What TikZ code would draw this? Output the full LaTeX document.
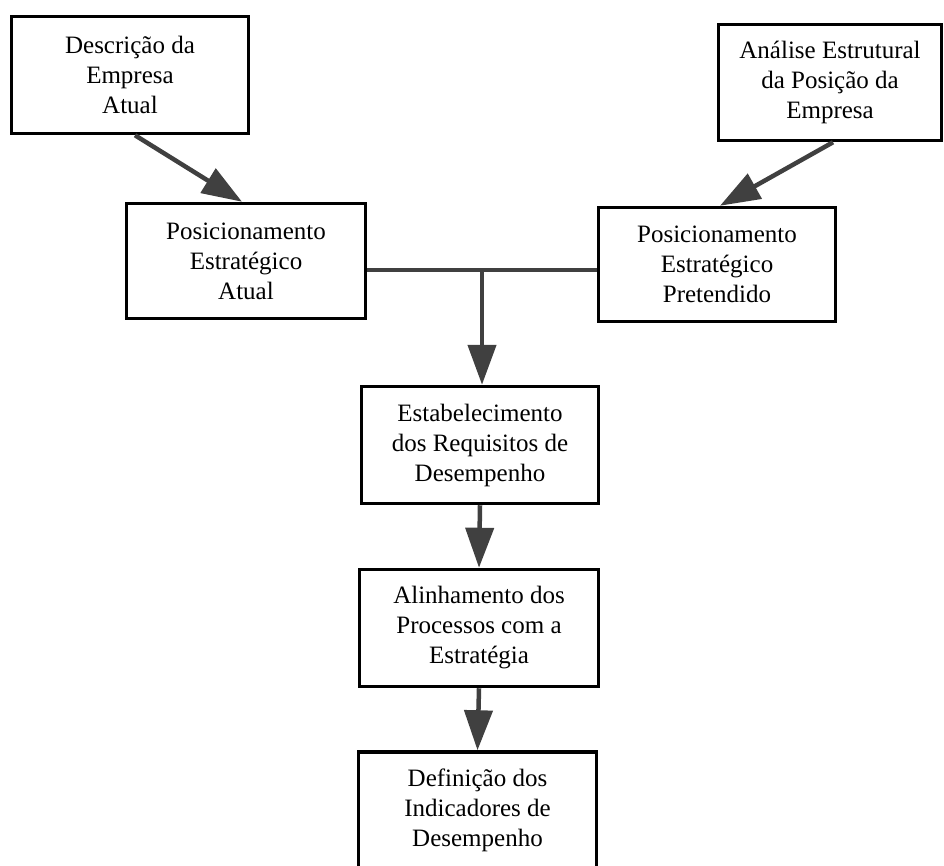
\documentclass[tikz,border=0pt]{standalone}
\usepackage{fontspec}
\setmainfont{Liberation Serif}
\usetikzlibrary{arrows.meta}
\begin{document}
\begin{tikzpicture}[x=1pt,y=-1pt,
  box/.style={draw=black, line width=3.5pt, fill=white, inner sep=0pt,
    align=center, font=\fontsize{25}{30}\selectfont},
  link/.style={draw=black!75, line width=4.5pt},
  flow/.style={link, -{Triangle[length=40pt,width=28pt]}}]
  \useasboundingbox (0,0) rectangle (944,865);
  \clip (0,0) rectangle (944,865);

  % process boxes
  \node[box, minimum width=237pt, minimum height=117pt] (desc) at (130,75)
    {Descrição da\\Empresa\\Atual};
  \node[box, minimum width=223pt, minimum height=116pt] (anal) at (830,82.5)
    {Análise Estrutural\\da Posição da\\Empresa};
  \node[box, minimum width=239pt, minimum height=115pt] (patu) at (246,261)
    {Posicionamento\\Estratégico\\Atual};
  \node[box, minimum width=237pt, minimum height=114pt] (ppre) at (717,264.5)
    {Posicionamento\\Estratégico\\Pretendido};
  \node[box, minimum width=237pt, minimum height=117pt] (requ) at (480,445)
    {Estabelecimento\\dos Requisitos de\\Desempenho};
  \node[box, minimum width=239pt, minimum height=117pt] (alin) at (479,628)
    {Alinhamento dos\\Processos com a\\Estratégia};
  \node[box, minimum width=238pt, minimum height=116pt] (defi) at (477.5,810)
    {Definição dos\\Indicadores de\\Desempenho};

  % diagonal feeds into the two positioning boxes
  \draw[flow] ([xshift=5pt]desc.south) -- ([xshift=-4pt]patu.north);
  \draw[flow] ([xshift=3pt]anal.south) -- ([xshift=3pt]ppre.north);

  % junction joining both positionings
  \coordinate (join) at (482,270);
  \draw[link] (patu.east |- join) -- (ppre.west |- join);
  \draw[flow] (join) -- (join |- requ.north);

  % main vertical chain
  \draw[flow] (requ.south) -- (alin.north);
  \draw[flow] (alin.south) -- (defi.north);
\end{tikzpicture}
\end{document}
